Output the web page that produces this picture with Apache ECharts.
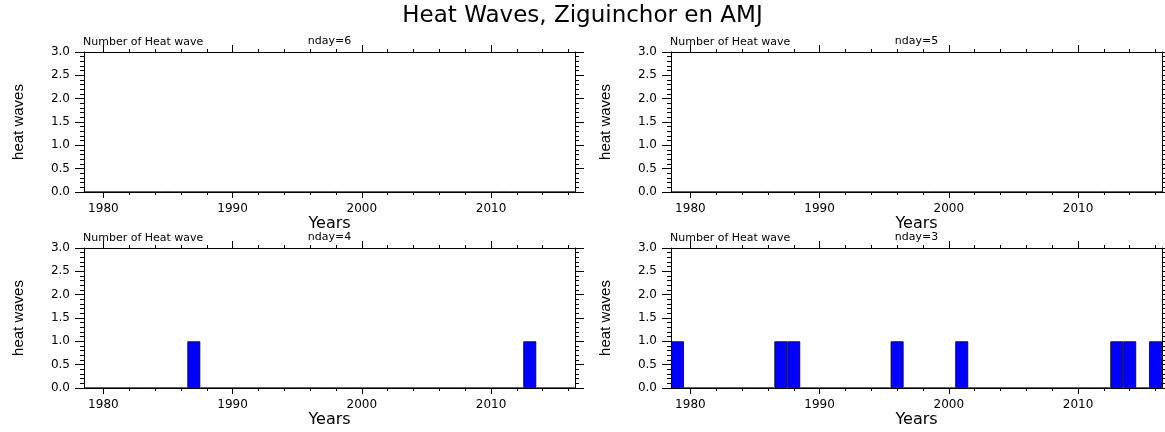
<!DOCTYPE html>
<html>
<head>
<meta charset="utf-8">
<script src="https://cdn.jsdelivr.net/npm/echarts@6/dist/echarts.min.js"></script>
<style>
  html, body { margin: 0; padding: 0; background: #fff; }
  #chart { width: 1165px; height: 432px; }
</style>
</head>
<body>
<div id="chart"></div>
<script>
// Heat-wave counts per year, Ziguinchor, April-May-June
const years = [1979, 1980, 1981, 1982, 1983, 1984, 1985, 1986, 1987, 1988,
               1989, 1990, 1991, 1992, 1993, 1994, 1995, 1996, 1997, 1998,
               1999, 2000, 2001, 2002, 2003, 2004, 2005, 2006, 2007, 2008,
               2009, 2010, 2011, 2012, 2013, 2014, 2015, 2016];

const nday6 = [0,0,0,0,0,0,0,0,0,0, 0,0,0,0,0,0,0,0,0,0, 0,0,0,0,0,0,0,0,0,0, 0,0,0,0,0,0,0,0];
const nday5 = [0,0,0,0,0,0,0,0,0,0, 0,0,0,0,0,0,0,0,0,0, 0,0,0,0,0,0,0,0,0,0, 0,0,0,0,0,0,0,0];
const nday4 = [0,0,0,0,0,0,0,0,1,0, 0,0,0,0,0,0,0,0,0,0, 0,0,0,0,0,0,0,0,0,0, 0,0,0,0,1,0,0,0];
const nday3 = [1,0,0,0,0,0,0,0,1,1, 0,0,0,0,0,0,0,1,0,0, 0,0,1,0,0,0,0,0,0,0, 0,0,0,0,1,1,0,1];

// Axis ticks
const majorYears = [1980, 1990, 2000, 2010];
const minorYears = [1980, 1982, 1984, 1986, 1988, 1990, 1992, 1994, 1996, 1998,
                    2000, 2002, 2004, 2006, 2008, 2010, 2012, 2014, 2016];

const panelLabels = ['nday=6', 'nday=5', 'nday=4', 'nday=3'];
const panelValues = [nday6, nday5, nday4, nday3];

const FONT = 'DejaVu Sans, Liberation Sans, sans-serif';
const BLACK = '#000';
const XMIN = 1978.5, XMAX = 2016.5;
const PLOT_W = 491, PLOT_H = 140;
const lefts = [84, 671, 84, 671];
const tops = [52, 52, 248, 248];

const grids = [], xAxes = [], yAxes = [], series = [];
const titles = [{
  text: 'Heat Waves, Ziguinchor en AMJ',
  left: 'center', top: 5, padding: 0,
  textStyle: { fontFamily: FONT, fontSize: 23, fontWeight: 'normal', color: BLACK }
}];

const line = { show: true, lineStyle: { color: BLACK, width: 1 } };

panelLabels.forEach((label, i) => {
  grids.push({ left: lefts[i], top: tops[i], width: PLOT_W, height: PLOT_H,
               containLabel: false, outerBoundsMode: 'none' });

  const baseX = { type: 'value', gridIndex: i, min: XMIN, max: XMAX,
                  splitLine: { show: false }, axisLine: line };
  const mainXIndex = xAxes.length;
  // bottom: labelled decade ticks
  xAxes.push(Object.assign({}, baseX, {
    position: 'bottom',
    name: 'Years', nameLocation: 'middle', nameGap: 23,
    nameTextStyle: { fontFamily: FONT, fontSize: 16, color: BLACK },
    axisTick: { show: true, length: 6, customValues: majorYears, lineStyle: { color: BLACK } },
    axisLabel: { show: true, margin: 11, customValues: majorYears,
                 fontFamily: FONT, fontSize: 12, color: BLACK,
                 formatter: v => String(Math.round(v)) }
  }));
  // bottom: two-year minor ticks
  xAxes.push(Object.assign({}, baseX, {
    position: 'bottom',
    axisTick: { show: true, length: 3, customValues: minorYears, lineStyle: { color: BLACK } },
    axisLabel: { show: false }
  }));
  // top frame: mirrored ticks
  xAxes.push(Object.assign({}, baseX, {
    position: 'top',
    axisTick: { show: true, length: 7, customValues: majorYears, lineStyle: { color: BLACK } },
    axisLabel: { show: false }
  }));
  xAxes.push(Object.assign({}, baseX, {
    position: 'top',
    axisTick: { show: true, length: 3, customValues: minorYears, lineStyle: { color: BLACK } },
    axisLabel: { show: false }
  }));

  const baseY = { type: 'value', gridIndex: i, min: 0, max: 3, interval: 0.5,
                  splitLine: { show: false }, axisLine: line,
                  axisTick: { show: true, length: 9, lineStyle: { color: BLACK } },
                  minorTick: { show: true, splitNumber: 5, length: 4, lineStyle: { color: BLACK } },
                  minorSplitLine: { show: false } };
  const mainYIndex = yAxes.length;
  yAxes.push(Object.assign({}, baseY, {
    position: 'left',
    name: 'heat waves', nameLocation: 'middle', nameGap: 58, nameRotate: 90,
    nameTextStyle: { fontFamily: 'Liberation Sans Narrow, Liberation Sans, sans-serif',
                     fontSize: 15, color: BLACK },
    axisLabel: { show: true, margin: 14, fontFamily: FONT, fontSize: 12, color: BLACK,
                 formatter: v => v.toFixed(1) }
  }));
  yAxes.push(Object.assign({}, baseY, { position: 'right', axisLabel: { show: false } }));

  titles.push({
    text: 'Number of Heat wave', left: lefts[i] - 1, top: tops[i] - 15, padding: 0,
    textStyle: { fontFamily: FONT, fontSize: 11, fontWeight: 'normal', color: BLACK }
  });
  titles.push({
    text: label, left: lefts[i] + PLOT_W / 2, top: tops[i] - 16, padding: 0, textAlign: 'center',
    textStyle: { fontFamily: FONT, fontSize: 11, fontWeight: 'normal', color: BLACK }
  });

  series.push({
    type: 'bar', name: label,
    xAxisIndex: mainXIndex, yAxisIndex: mainYIndex,
    data: years.map((y, k) => [y, panelValues[i][k]]),
    barWidth: '100%',
    itemStyle: { color: '#0000ff', borderColor: BLACK, borderWidth: 0.8 },
    silent: true, animation: false
  });
});

const chart = echarts.init(document.getElementById('chart'), null, { renderer: 'canvas' });
chart.setOption({
  backgroundColor: '#fff',
  animation: false,
  title: titles,
  grid: grids,
  xAxis: xAxes,
  yAxis: yAxes,
  series: series
});
</script>
</body>
</html>
